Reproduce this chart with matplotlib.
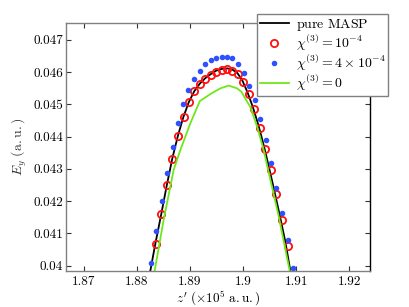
import matplotlib
matplotlib.use("Agg")
import matplotlib.pyplot as plt
from matplotlib.ticker import FuncFormatter

plt.rcParams['font.family'] = 'serif'
plt.rcParams['font.serif'] = ['cmr10', 'DejaVu Serif']
plt.rcParams['mathtext.fontset'] = 'cm'
plt.rcParams['axes.formatter.use_mathtext'] = True

# pure MASP (black line)
z_masp = [1.88256, 1.88350, 1.88463, 1.88567, 1.88670, 1.88774, 1.88878, 1.88981,
          1.89085, 1.89188, 1.89292, 1.89395, 1.89499, 1.89603, 1.89706, 1.89800,
          1.89895, 1.89989, 1.90083, 1.90186, 1.90290, 1.90394, 1.90488, 1.90591,
          1.90695, 1.90798, 1.90892]
e_masp = [0.039829, 0.040667, 0.041597, 0.042495, 0.043317, 0.044014, 0.044603, 0.045068,
          0.045409, 0.045642, 0.045812, 0.045936, 0.046045, 0.046097, 0.046113, 0.046076,
          0.045967, 0.045735, 0.045378, 0.044913, 0.044355, 0.043704, 0.043053, 0.042309,
          0.041534, 0.040728, 0.039829]

# chi3 = 1e-4 (red circles)
z_chi1 = [1.88356, 1.88463, 1.88571, 1.88670, 1.88778, 1.88883, 1.88985, 1.89085,
          1.89185, 1.89292, 1.89399, 1.89499, 1.89599, 1.89701, 1.89800, 1.89900,
          1.90002, 1.90111, 1.90215, 1.90328, 1.90422, 1.90525, 1.90629, 1.90736,
          1.90842]
e_chi1 = [0.040667, 0.041587, 0.042495, 0.043311, 0.044014, 0.044603, 0.045068, 0.045400,
          0.045626, 0.045781, 0.045905, 0.046007, 0.046060, 0.046082, 0.046038, 0.045936,
          0.045688, 0.045316, 0.044851, 0.044278, 0.043621, 0.042960, 0.042207, 0.041410,
          0.040604]

# chi3 = 4e-4 (blue dots)
z_chi4 = [1.88269, 1.88363, 1.88469, 1.88571, 1.88676, 1.88778, 1.88878, 1.88966,
          1.89079, 1.89185, 1.89286, 1.89392, 1.89493, 1.89599, 1.89701, 1.89800,
          1.89908, 1.90011, 1.90115, 1.90218, 1.90328, 1.90435, 1.90525, 1.90629,
          1.90736, 1.90842, 1.90940]
e_chi4 = [0.040087, 0.041069, 0.041999, 0.042877, 0.043683, 0.044408, 0.045012, 0.045440,
          0.045781, 0.046038, 0.046237, 0.046361, 0.046441, 0.046472, 0.046472, 0.046423,
          0.046237, 0.045958, 0.045564, 0.045130, 0.044541, 0.043890, 0.043168, 0.042412,
          0.041637, 0.040790, 0.039922]

# chi3 = 0 (green line)
z_chi0 = [1.88337, 1.88507, 1.88695, 1.88821, 1.89009, 1.89188, 1.89386, 1.89574,
          1.89731, 1.89889, 1.89970, 1.90139, 1.90266, 1.90390, 1.90465, 1.90667,
          1.90880]
e_chi0 = [0.039829, 0.041410, 0.042960, 0.043580, 0.044408, 0.045099, 0.045316, 0.045493,
          0.045580, 0.045493, 0.045387, 0.044913, 0.044303, 0.043580, 0.043022, 0.041565,
          0.039829]

xticks = [1.87, 1.88, 1.89, 1.90, 1.91, 1.92]
yticks = [0.040, 0.041, 0.042, 0.043, 0.044, 0.045, 0.046, 0.047]

fig = plt.figure(figsize=(4.09, 3.07), dpi=100)
ax = fig.add_axes([66 / 409, 1 - 271 / 307, 304 / 409, 248 / 307])

ax.plot(z_masp, e_masp, color='black', lw=1.3, label=r'$\mathrm{pure\ MASP}$')
ax.plot(z_chi1, e_chi1, 'o', mfc='none', mec='#ff1010', mew=1.3, ms=5.2,
        label=r'$\chi^{(3)} = 10^{-4}$')
ax.plot(z_chi4, e_chi4, 'o', color='#2f50ff', ms=4.0, mew=0,
        label=r'$\chi^{(3)} = 4\times10^{-4}$')
ax.plot(z_chi0, e_chi0, color='#6fe81a', lw=1.3, label=r'$\chi^{(3)} = 0$')

ax.set_xlim(1.8667, 1.9239)
ax.set_ylim(0.03983, 0.04752)
ax.set_xticks(xticks)
ax.set_yticks(yticks)
fmt = FuncFormatter(lambda v, p: '%g' % round(v, 4))
ax.xaxis.set_major_formatter(fmt)
ax.yaxis.set_major_formatter(fmt)
ax.tick_params(direction='in', top=True, right=True, length=3.5, width=0.8,
               labelsize=9.5, colors='#333333', labelcolor='black')
ax.tick_params(axis='y', pad=2)
ax.tick_params(axis='x', pad=3.5)

for side in ['left', 'bottom', 'top']:
    ax.spines[side].set_color('#808080')
    ax.spines[side].set_linewidth(1.0)
ax.spines['right'].set_color('black')
ax.spines['right'].set_linewidth(1.0)

ax.set_xlabel(r"$z'\ (\times 10^5\ \mathrm{a.u.})$", fontsize=9.5, labelpad=0)
ax.set_ylabel(r"$E_y\ \mathrm{(a.u.)}$", fontsize=10, labelpad=3, color='#333333')

leg = ax.legend(loc='upper left', bbox_to_anchor=(257 / 409, 1 - 14 / 307),
                bbox_transform=fig.transFigure, fontsize=10, fancybox=False,
                framealpha=1, edgecolor='#808080', borderaxespad=0,
                handlelength=2.1, labelspacing=0.0, borderpad=0.2,
                handletextpad=0.5)
leg.get_frame().set_linewidth(1.0)

fig.savefig('out.png', dpi=100)
